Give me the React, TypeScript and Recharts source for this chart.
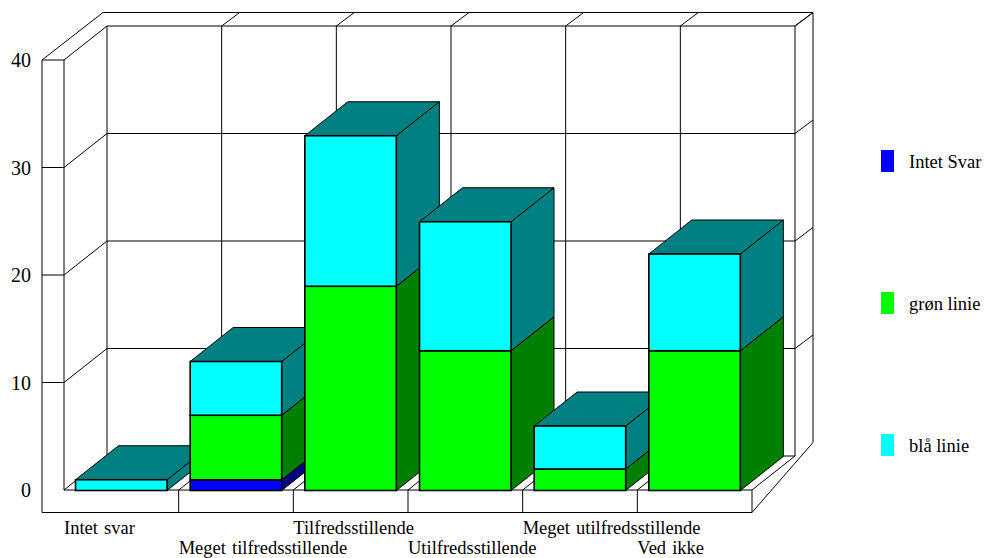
import React from 'react';
import { BarChart, Bar, XAxis, YAxis, CartesianGrid, usePlotArea } from 'recharts';

const categories = ['Intet svar', 'Meget tilfredsstillende', 'Tilfredsstillende', 'Utilfredsstillende', 'Meget utilfredsstillende', 'Ved ikke'];
const blueValues = [0, 1, 0, 0, 0, 0];
const greenValues = [0, 6, 19, 13, 2, 13];
const cyanValues = [1, 5, 14, 12, 4, 9];
const yTicks = [0, 10, 20, 30, 40];

const series = [
  { key: 'blue', label: 'Intet Svar', values: blueValues, front: '#0000ff', dark: '#000080', legendTop: 150 },
  { key: 'green', label: 'grøn linie', values: greenValues, front: '#00ff00', dark: '#008000', legendTop: 292 },
  { key: 'cyan', label: 'blå linie', values: cyanValues, front: '#00ffff', dark: '#008080', legendTop: 434 },
];

// one row per category, one key per category+series so bars paint left to right
const rows = categories.map((name, i) => {
  const row: Record<string, string | number> = { name };
  categories.forEach((_, j) => {
    series.forEach((s) => {
      row[`${s.key}_${j}`] = i === j ? s.values[i] : 0;
    });
  });
  return row;
});

const FONT = '"Liberation Serif", "Times New Roman", serif';
const DX = 43;
const DY = 34;
const WALL_X = 18;
const WALL_Y = 13.5;
const BASE_X = 22;
const BASE_Y = 22.5;

const L = (p: { a: number; b: number; c: number; d: number }) => (
  <line x1={p.a} y1={p.b} x2={p.c} y2={p.d} stroke="#000" strokeWidth={1} />
);

const Frame = () => {
  const area = usePlotArea();
  if (!area) return null;
  const left = area.x;
  const right = area.x + area.width;
  const top = area.y;
  const bottom = area.y + area.height;
  return (
    <g>
      <L a={left - BASE_X} b={top} c={left - BASE_X} d={bottom + BASE_Y} />
      <L a={left - BASE_X} b={bottom + BASE_Y} c={right} d={bottom + BASE_Y} />
      <L a={left} b={top} c={left} d={bottom} />
      <L a={left} b={bottom} c={right} d={bottom} />
      <L a={right} b={bottom} c={right} d={bottom + BASE_Y} />
      <L a={right} b={bottom} c={right + DX} d={bottom - DY} />
      <L a={right + DX} b={top - DY} c={right + DX} d={bottom - DY} />
      <L a={right} b={bottom + BASE_Y} c={right + DX + WALL_X} d={bottom - DY - WALL_Y} />
      <L a={right + DX + WALL_X} b={top - DY - WALL_Y} c={right + DX + WALL_X} d={bottom - DY - WALL_Y} />
      <L a={left - BASE_X} b={top} c={left + DX - 4} d={top - DY - WALL_Y} />
      <L a={left + DX - 4} b={top - DY - WALL_Y} c={right + DX + WALL_X} d={top - DY - WALL_Y} />
      <L a={right + DX} b={top - DY} c={right + DX + WALL_X} d={top - DY - WALL_Y} />
    </g>
  );
};

const plotLeft = 64;
const plotWidth = 688;
const plotBottom = 490;
const plotTop = 60;
const bandWidth = plotWidth / categories.length;

const horizontalLine = (p: any) => {
  const y = p.y1;
  const isFloor = Math.abs(y - plotBottom) < 1;
  const backLeft = plotLeft + DX;
  const backRight = plotLeft + plotWidth + DX;
  return (
    <g key={`h-${y}`}>
      <L a={plotLeft} b={y} c={backLeft} d={y - DY} />
      <L a={backLeft} b={y - DY} c={backRight} d={y - DY} />
      {!isFloor && <L a={plotLeft - BASE_X} b={y} c={plotLeft} d={y} />}
      {!isFloor && <L a={backRight} b={y - DY} c={backRight + WALL_X} d={y - DY - WALL_Y} />}
    </g>
  );
};

const verticalLine = (p: any) => {
  // the grid also hands over the plot edges, only band centres are wanted here
  if (Math.abs(p.x1 - plotLeft) < 1 || Math.abs(p.x1 - plotLeft - plotWidth) < 1) return <g key={`edge-${p.x1}`} />;
  const x = p.x1 - bandWidth / 2;
  const isFirst = Math.abs(x - plotLeft) < 1;
  return (
    <g key={`v-${x}`}>
      <L a={x + DX} b={plotTop - DY} c={x + DX} d={plotBottom - DY} />
      {!isFirst && <L a={x + DX} b={plotTop - DY} c={x + DX + WALL_X} d={plotTop - DY - WALL_Y} />}
      {!isFirst && <L a={x} b={plotBottom} c={x + DX} d={plotBottom - DY} />}
      {!isFirst && <L a={x} b={plotBottom} c={x} d={plotBottom + BASE_Y} />}
    </g>
  );
};

const Block = (p: any) => {
  const { x, y, width, height, front, dark } = p;
  if (!height || height <= 0) return null;
  const topFace = `${x},${y} ${x + width},${y} ${x + width + DX},${y - DY} ${x + DX},${y - DY}`;
  const sideFace = `${x + width},${y} ${x + width + DX},${y - DY} ${x + width + DX},${y + height - DY} ${x + width},${y + height}`;
  return (
    <g transform="translate(-0.5 0.5)">
      <polygon points={sideFace} fill={dark} stroke="#000" strokeWidth={1} />
      <polygon points={topFace} fill={dark} stroke="#000" strokeWidth={1} />
      <rect x={x} y={y} width={width} height={height} fill={front} stroke="#000" strokeWidth={1.6} />
    </g>
  );
};

const CategoryTick = (p: any) => {
  const { x, index, payload } = p;
  return (
    <text x={x - bandWidth / 2} y={index % 2 === 0 ? 534 : 554} textAnchor="start" fontFamily={FONT} fontSize={18.5} wordSpacing={1.5} fill="#000">
      {payload.value}
    </text>
  );
};

const ValueTick = (p: any) => {
  const { y, payload } = p;
  return (
    <text x={31} y={y + 7} textAnchor="end" fontFamily={FONT} fontSize={20} fill="#000">
      {payload.value}
    </text>
  );
};

export default function App() {
  return (
    <div style={{ position: 'absolute', left: 0, top: 0, width: 987, height: 558, background: '#fff' }}>
      <BarChart width={987} height={558} data={rows} margin={{ top: 60, right: 235, bottom: 20, left: 0 }} barSize={91.5}>
        <CartesianGrid horizontal={horizontalLine} vertical={verticalLine} />
        <XAxis dataKey="name" axisLine={false} tickLine={false} interval={0} height={48} tick={CategoryTick} />
        <YAxis width={64} domain={[0, 40]} ticks={yTicks} axisLine={false} tickLine={false} tick={ValueTick} />
        <Frame />
        {categories.map((_, j) =>
          series.map((s) => (
            <Bar
              key={`${s.key}_${j}`}
              dataKey={`${s.key}_${j}`}
              stackId="all"
              isAnimationActive={false}
              shape={(props: any) => <Block {...props} front={s.front} dark={s.dark} />}
            />
          ))
        )}
      </BarChart>
      {series.map((s) => (
        <div key={s.key} style={{ position: 'absolute', left: 881, top: s.legendTop, height: 22, display: 'flex', alignItems: 'center' }}>
          <div style={{ width: 13, height: 22, background: s.front }} />
          <span style={{ marginLeft: 15, marginTop: 3, fontFamily: FONT, fontSize: 18.5, color: '#000', whiteSpace: 'nowrap' }}>{s.label}</span>
        </div>
      ))}
    </div>
  );
}
